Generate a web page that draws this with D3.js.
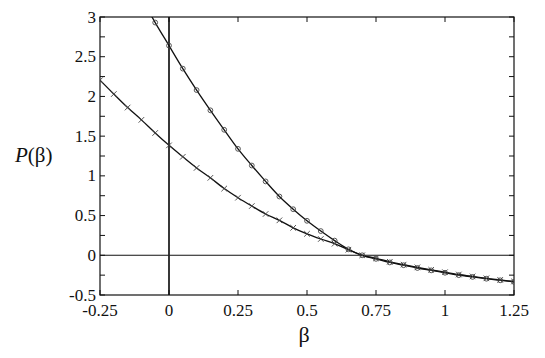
<!DOCTYPE html>
<html>
<head>
<meta charset="utf-8">
<script src="https://cdn.jsdelivr.net/npm/d3@7"></script>
<style>
  body { margin: 0; background: #fff; }
</style>
</head>
<body>
<div id="chart"></div>
<script>
// beta values (every 0.05)
const betas = [-0.25, -0.2, -0.15, -0.1, -0.05, 0, 0.05, 0.1, 0.15, 0.2, 0.25, 0.3, 0.35, 0.4,
    0.45, 0.5, 0.55, 0.6, 0.65, 0.7, 0.75, 0.8, 0.85, 0.9, 0.95, 1.0, 1.05, 1.1, 1.15, 1.2, 1.25];

// circle series (values above 3 only feed the line, they are clipped)
const circleVals = [4.4, 3.95, 3.55, 3.24, 2.93, 2.64, 2.35, 2.08, 1.825, 1.58, 1.34, 1.13, 0.93, 0.74,
    0.58, 0.434, 0.305, 0.185, 0.075, 0.0, -0.045, -0.09, -0.125, -0.16, -0.19, -0.22, -0.25, -0.272, -0.295, -0.315, -0.335];

// cross series
const crossVals = [2.205, 2.03, 1.86, 1.705, 1.54, 1.384, 1.24, 1.10, 0.975, 0.84, 0.725, 0.62, 0.52, 0.44,
    0.346, 0.27, 0.205, 0.146, 0.07, 0.0, -0.038, -0.082, -0.118, -0.152, -0.183, -0.213, -0.242, -0.266, -0.29, -0.31, -0.33];

const xTicks = [-0.25, 0, 0.25, 0.5, 0.75, 1, 1.25];
const yTicks = [-0.5, 0, 0.5, 1, 1.5, 2, 2.5, 3];
const yMinorTicks = [-0.5, -0.25, 0, 0.25, 0.5, 0.75, 1, 1.25, 1.5, 1.75, 2, 2.25, 2.5, 2.75, 3];

const width = 545, height = 358;
const plotLeft = 100, plotRight = 514, plotTop = 17, plotBottom = 295;
const serif = "'Liberation Serif', 'Times New Roman', 'DejaVu Serif', serif";

let svg = d3.select('#chart')
    .append("svg")
    .attr("width", width)
    .attr("height", height);

let x = d3.scaleLinear().domain([-0.25, 1.25]).range([plotLeft, plotRight]);
let y = d3.scaleLinear().domain([-0.5, 3]).range([plotBottom, plotTop]);

svg.append("defs").append("clipPath").attr("id", "plotclip")
    .append("rect")
    .attr("x", plotLeft).attr("y", plotTop)
    .attr("width", plotRight - plotLeft).attr("height", plotBottom - plotTop);

// zero lines
svg.append("line")
    .attr("x1", plotLeft).attr("x2", plotRight)
    .attr("y1", y(0)).attr("y2", y(0))
    .attr("stroke", "#111").attr("stroke-width", 1.1);
svg.append("line")
    .attr("x1", x(0)).attr("x2", x(0))
    .attr("y1", plotTop).attr("y2", plotBottom)
    .attr("stroke", "#222").attr("stroke-width", 1.8);

// ticks, inward on all four sides
const tick = 5;
let ticks = svg.append("g").attr("stroke", "#111").attr("stroke-width", 1);
xTicks.forEach(function(t) {
    ticks.append("line").attr("x1", x(t)).attr("x2", x(t)).attr("y1", plotBottom).attr("y2", plotBottom - tick);
    ticks.append("line").attr("x1", x(t)).attr("x2", x(t)).attr("y1", plotTop).attr("y2", plotTop + tick);
});
yMinorTicks.forEach(function(t) {
    ticks.append("line").attr("y1", y(t)).attr("y2", y(t)).attr("x1", plotLeft).attr("x2", plotLeft + tick);
    ticks.append("line").attr("y1", y(t)).attr("y2", y(t)).attr("x1", plotRight).attr("x2", plotRight - tick);
});

// frame
svg.append("rect")
    .attr("x", plotLeft).attr("y", plotTop)
    .attr("width", plotRight - plotLeft).attr("height", plotBottom - plotTop)
    .attr("fill", "none").attr("stroke", "#111").attr("stroke-width", 1.2);

// tick labels
svg.append("g").selectAll("text")
    .data(xTicks)
    .enter()
    .append("text")
    .attr("x", d => x(d))
    .attr("y", 316)
    .attr("text-anchor", "middle")
    .attr("font-family", serif)
    .attr("font-size", 17)
    .attr("fill", "#111")
    .text(d => d);

svg.append("g").selectAll("text")
    .data(yTicks)
    .enter()
    .append("text")
    .attr("x", 96)
    .attr("y", d => y(d) + 5.5)
    .attr("text-anchor", "end")
    .attr("font-family", serif)
    .attr("font-size", 17)
    .attr("fill", "#111")
    .text(d => d);

// axis titles
svg.append("text")
    .attr("x", 304).attr("y", 342)
    .attr("text-anchor", "middle")
    .attr("font-family", serif)
    .attr("font-size", 22)
    .attr("fill", "#111")
    .text("β");

let ylab = svg.append("text")
    .attr("x", 15).attr("y", 162)
    .attr("font-family", serif)
    .attr("font-size", 21)
    .attr("fill", "#111");
ylab.append("tspan").attr("font-style", "italic").text("P");
ylab.append("tspan").text("(β)");

// curves
const line = d3.line()
    .x(d => x(d[0]))
    .y(d => y(d[1]))
    .curve(d3.curveCatmullRom);

const circleData = betas.map((b, i) => [b, circleVals[i]]);
const crossData = betas.map((b, i) => [b, crossVals[i]]);

let curves = svg.append("g").attr("clip-path", "url(#plotclip)");
curves.append("path")
    .attr("d", line(circleData))
    .attr("fill", "none").attr("stroke", "#111").attr("stroke-width", 1.3);
curves.append("path")
    .attr("d", line(crossData))
    .attr("fill", "none").attr("stroke", "#111").attr("stroke-width", 1.3);

// circle markers
curves.selectAll("circle")
    .data(circleData.filter(d => d[1] <= 3))
    .enter()
    .append("circle")
    .attr("cx", d => x(d[0]))
    .attr("cy", d => y(d[1]))
    .attr("r", 2.4)
    .attr("fill", "none")
    .attr("stroke", "#444")
    .attr("stroke-width", 0.9);

// cross markers
const s = 2.8;
curves.selectAll("path.cross")
    .data(crossData)
    .enter()
    .append("path")
    .attr("class", "cross")
    .attr("d", function(d) {
        const cx = x(d[0]), cy = y(d[1]);
        return "M" + (cx - s) + "," + (cy - s) + "L" + (cx + s) + "," + (cy + s) +
            "M" + (cx - s) + "," + (cy + s) + "L" + (cx + s) + "," + (cy - s);
    })
    .attr("fill", "none")
    .attr("stroke", "#444")
    .attr("stroke-width", 0.9);
</script>
</body>
</html>
